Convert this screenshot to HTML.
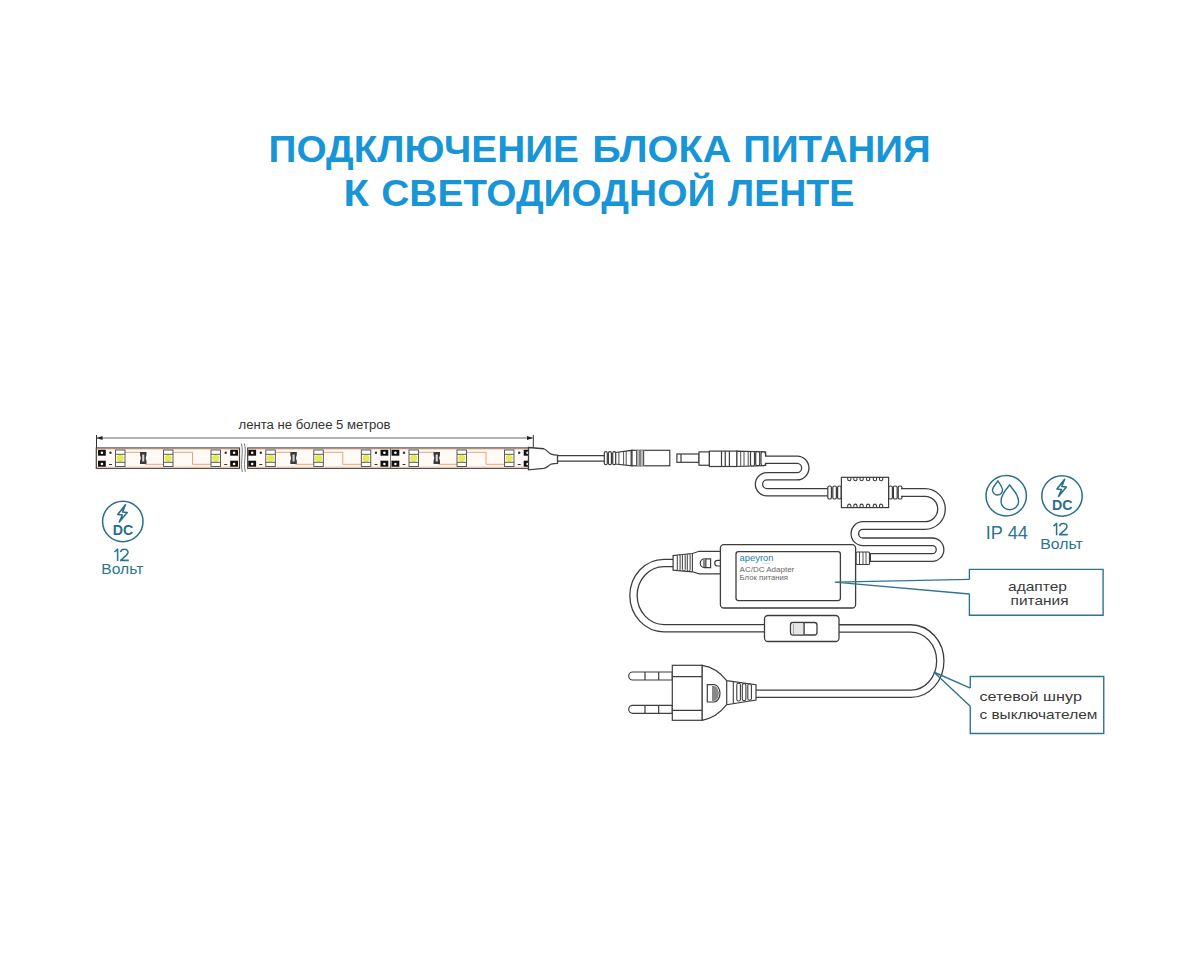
<!DOCTYPE html>
<html><head><meta charset="utf-8">
<style>
html,body{margin:0;padding:0;background:#fff;}
body{width:1200px;height:960px;overflow:hidden;}
svg{display:block;}
text{font-family:"Liberation Sans",sans-serif;}
</style></head>
<body>
<svg width="1200" height="960" viewBox="0 0 1200 960">
<rect width="1200" height="960" fill="#fff"/>
<!-- TITLE -->
<g fill="#1795d6" font-weight="bold" font-size="37.3">
<text x="268.5" y="162.4" textLength="310.5" lengthAdjust="spacingAndGlyphs">ПОДКЛЮЧЕНИЕ</text>
<text x="592.3" y="162.4" textLength="139.0" lengthAdjust="spacingAndGlyphs">БЛОКА</text>
<text x="743.3" y="162.4" textLength="187.3" lengthAdjust="spacingAndGlyphs">ПИТАНИЯ</text>
<text x="343.5" y="205.9" textLength="25.5" lengthAdjust="spacingAndGlyphs">К</text>
<text x="381.2" y="205.9" textLength="334.2" lengthAdjust="spacingAndGlyphs">СВЕТОДИОДНОЙ</text>
<text x="727.8" y="205.9" textLength="126.6" lengthAdjust="spacingAndGlyphs">ЛЕНТЕ</text>
</g>

<!-- DIMENSION -->
<text x="238.5" y="429.1" font-size="12" fill="#333" textLength="152" lengthAdjust="spacingAndGlyphs">лента не более 5 метров</text>
<g stroke="#666" stroke-width="1" fill="none">
<line x1="97" y1="438" x2="532.5" y2="438"/>
</g>
<g stroke="#333" stroke-width="1" fill="none">
<line x1="96.5" y1="435" x2="96.5" y2="448"/>
<line x1="533.3" y1="435" x2="533.3" y2="448"/>
</g>
<path d="M96.5,438 L102.5,436 L102.5,440 Z M533,438 L527,436 L527,440 Z" fill="#222"/>

<!-- TAPE -->
<defs>
<g id="led">
    <rect x="17.5" y="450" width="9.5" height="16.5" fill="#fff" stroke="#4a4a4a" stroke-width="0.9"/>
    <circle cx="22.25" cy="458.3" r="3.6" fill="#e4ec50"/>
    <line x1="17.5" y1="454.3" x2="27" y2="454.3" stroke="#4a4a4a" stroke-width="0.9"/>
    <line x1="17.5" y1="462.3" x2="27" y2="462.3" stroke="#4a4a4a" stroke-width="0.9"/>
</g>
<g id="mod">
  <rect x="0" y="449.8" width="7.8" height="5.9" fill="#111"/>
  <rect x="0" y="460.7" width="7.8" height="6" fill="#111"/>
  <circle cx="3.9" cy="452.8" r="1.3" fill="#fff"/>
  <circle cx="3.9" cy="464" r="1.3" fill="#fff"/>
  <circle cx="12.5" cy="452.8" r="1.2" fill="#333"/>
  <line x1="11" y1="464.5" x2="14" y2="464.5" stroke="#333" stroke-width="1"/>
  <rect x="132.2" y="449.8" width="7.8" height="5.9" fill="#111"/>
  <rect x="132.2" y="460.7" width="7.8" height="6" fill="#111"/>
  <circle cx="136.1" cy="452.8" r="1.3" fill="#fff"/>
  <circle cx="136.1" cy="464" r="1.3" fill="#fff"/>
  <circle cx="127.7" cy="452.8" r="1.2" fill="#333"/>
  <line x1="126.2" y1="464.5" x2="129.2" y2="464.5" stroke="#333" stroke-width="1"/>
  <g stroke="#e8a47c" stroke-width="1" fill="none">
    <path d="M27,452.3 L42,452.3"/>
    <path d="M47,464.3 L65.5,464.3"/>
    <path d="M75.5,452.3 L94.5,452.3 L94.5,464.3 L113,464.3"/>
  </g>
  <use href="#led"/>
  <use href="#led" x="48"/>
  <use href="#led" x="95.5"/>
  <path d="M42,452 H48.5 V455 Q46.8,458 48.5,461 V464 H42 V461 Q43.7,458 42,455 Z" fill="#3a3a3a"/>
  <rect x="44.2" y="454.5" width="2.1" height="7" fill="#d8d8d8"/>
</g>
</defs>
<g>
<rect x="96.3" y="448" width="143.2" height="20.3" fill="#fffaf6" stroke="#4a3a30" stroke-width="1.2"/>
<rect x="247.7" y="448" width="281.5" height="20.3" fill="#fffaf6" stroke="#4a3a30" stroke-width="1.2"/>
<path d="M97,449.3 H239 M248.3,449.3 H528.6 M97,467 H239 M248.3,467 H528.6" stroke="#f4cfb4" stroke-width="1"/>
<use href="#mod" x="98"/>
<use href="#mod" x="248.3"/>
<use href="#mod" x="391.5"/>
<line x1="390.5" y1="448" x2="390.5" y2="468" stroke="#555" stroke-width="0.8"/>
<path d="M241.3,443.5 C244,452 240,462 242.3,472 M244.3,443.5 C247,452 243,462 245.3,472" stroke="#777" stroke-width="1" fill="none"/>
</g>

<!-- end cap + cable to female -->
<g stroke="#3d3d3d" stroke-width="1.2" fill="#fff">
<path d="M557,455.6 L604.5,455.6 M557,461.2 L604.5,461.2" fill="none"/>
<path d="M528.5,447.5 L543.75,448.75 C547,450 549,453.5 551.25,454.2 C553,455 555,455.2 557.5,455.2 L557.5,463.3 C555,463.3 553,463.5 551.25,464 C549,465 547,467.8 543.75,468.3 L528.5,469.8 Z" stroke-width="1.3"/>
</g>
<!-- female connector -->
<g stroke="#3d3d3d" stroke-width="1.2" fill="#fff">
<path d="M615.4,452.5 L632,450.3 L632,465.8 L615.4,464 Z"/>
<path d="M618.9,452 V464.3 M623.6,451.4 V464.8 M626.2,451 V465.1 M631,450.4 V465.7" fill="none" stroke-width="0.9"/>
<rect x="604.3" y="451.7" width="3" height="13" rx="1.5"/>
<rect x="608.4" y="451.7" width="3" height="13" rx="1.5"/>
<rect x="612.7" y="451.7" width="3" height="13" rx="1.5"/>
<rect x="632" y="450.3" width="37.8" height="15.5"/>
<rect x="636.3" y="450.3" width="8" height="15.5" fill="#bbb" stroke="none"/>
<path d="M636.6,450.3 V465.8 M640,450.3 V465.8 M643.6,450.3 V465.8" fill="none" stroke-width="0.9"/>
</g>
<!-- male connector -->
<g stroke="#3d3d3d" stroke-width="1.2" fill="#fff">
<rect x="676.9" y="454" width="22.1" height="8.3"/>
<line x1="681" y1="454" x2="681" y2="462.3"/>
<rect x="699" y="451.9" width="10.4" height="13.35"/>
<rect x="709.4" y="451.1" width="27.5" height="15.4"/>
<path d="M721.5,451.1 V466.5 M725.25,451.1 V466.5 M729.4,451.1 V466.5" fill="none"/>
<path d="M736.9,451.1 L765.7,452 L765.7,465.5 L736.9,466.5 Z"/>
<path d="M740.7,451.2 V466.4 M744,451.3 V466.3 M748.2,451.4 V466.1" fill="none" stroke-width="0.9"/>
<rect x="750.5" y="451.5" width="4" height="14.5" rx="1.8"/>
<rect x="755.7" y="451.7" width="4" height="14" rx="1.8"/>
<rect x="761" y="451.9" width="4.5" height="13.7" rx="1.8"/>
</g>
<!-- cable S to ferrite -->
<path d="M765,459.7 L797,459.7 A8.3,8.3 0 0 1 797,476.3 L767,476.3 A8,8 0 0 0 767,492.3 L829,492.3" fill="none" stroke="#3d3d3d" stroke-width="8.6"/>
<path d="M764,459.7 L797,459.7 A8.3,8.3 0 0 1 797,476.3 L767,476.3 A8,8 0 0 0 767,492.3 L830,492.3" fill="none" stroke="#fff" stroke-width="6"/>
<!-- ferrite -->
<g stroke="#3d3d3d" stroke-width="1.2" fill="#fff">
<rect x="827.8" y="486" width="3.6" height="13" rx="1.6"/>
<rect x="832.8" y="486" width="3.6" height="13" rx="1.6"/>
<rect x="837.6" y="486" width="3.6" height="13" rx="1.6"/>
<rect x="888.6" y="486" width="3.8" height="13" rx="1.6"/>
<rect x="893.4" y="486" width="3.8" height="13" rx="1.6"/>
<rect x="898.2" y="486" width="3.8" height="13" rx="1.6"/>
<rect x="841.4" y="477.3" width="47.2" height="30.3"/>
<path d="M847.7,477.3 v1.9 a1.6,1.6 0 0 0 3.2,0 v-1.9 M853.8,477.3 v1.9 a1.6,1.6 0 0 0 3.2,0 v-1.9 M860.0,477.3 v1.9 a1.6,1.6 0 0 0 3.2,0 v-1.9 M866.5,477.3 v1.9 a1.6,1.6 0 0 0 3.2,0 v-1.9 M873.3,477.3 v1.9 a1.6,1.6 0 0 0 3.2,0 v-1.9 M879.5,477.3 v1.9 a1.6,1.6 0 0 0 3.2,0 v-1.9 " fill="none" stroke-width="1.1"/>
<path d="M847.7,507.6 v-1.9 a1.6,1.6 0 0 1 3.2,0 v1.9 M853.8,507.6 v-1.9 a1.6,1.6 0 0 1 3.2,0 v1.9 M860.0,507.6 v-1.9 a1.6,1.6 0 0 1 3.2,0 v1.9 M866.5,507.6 v-1.9 a1.6,1.6 0 0 1 3.2,0 v1.9 M873.3,507.6 v-1.9 a1.6,1.6 0 0 1 3.2,0 v1.9 M879.5,507.6 v-1.9 a1.6,1.6 0 0 1 3.2,0 v1.9 " fill="none" stroke-width="1.1"/>
</g>
<!-- cable ferrite to adapter -->
<path d="M901,492.5 L925,492.5 A16.5,16.5 0 0 1 925,525.5 L863,525.5 A8.15,8.15 0 0 0 863,541.8 L932.2,541.8 A7.85,7.85 0 0 1 932.2,557.5 L870,557.5" fill="none" stroke="#3d3d3d" stroke-width="8.9"/>
<path d="M900,492.5 L925,492.5 A16.5,16.5 0 0 1 925,525.5 L863,525.5 A8.15,8.15 0 0 0 863,541.8 L932.2,541.8 A7.85,7.85 0 0 1 932.2,557.5 L871,557.5" fill="none" stroke="#fff" stroke-width="6.3"/>
<g stroke="#3d3d3d" stroke-width="1.2" fill="#fff">
<rect x="856" y="552" width="13.5" height="12.5" rx="1"/>
<path d="M859.5,552 V564.5 M863,552 V564.5 M866,552 V564.5" fill="none" stroke-width="0.9"/>
</g>

<!-- AC cord -->
<path d="M674,563 L664,563 A30.5,32.6 0 0 0 664,628.2 L765,628.2" fill="none" stroke="#3d3d3d" stroke-width="8.6"/>
<path d="M675,563 L664,563 A30.5,32.6 0 0 0 664,628.2 L766,628.2" fill="none" stroke="#fff" stroke-width="6"/>
<path d="M838,628.4 L910.8,628.4 A29.5,32.7 0 0 1 910.8,693.8 L755,693.8" fill="none" stroke="#3d3d3d" stroke-width="8.6"/>
<path d="M837,628.4 L910.8,628.4 A29.5,32.7 0 0 1 910.8,693.8 L754,693.8" fill="none" stroke="#fff" stroke-width="6"/>

<!-- strain relief left of adapter -->
<g stroke="#3d3d3d" stroke-width="1.2" fill="#fff">
<path d="M673.1,555.6 L692.4,553.5 L699.2,551.3 L721,551.3 L721,573.9 L699.2,573.9 L692.4,571.8 L673.1,570.2 Z"/>
<path d="M692.4,553.5 V571.8" fill="none" stroke-width="1.1"/>
<rect x="677.3" y="554.8" width="2.8" height="15.8" rx="1.3" stroke-width="1"/>
<rect x="682.4" y="554.4" width="2.8" height="16.4" rx="1.3" stroke-width="1"/>
<rect x="687.3" y="553.9" width="2.8" height="17.2" rx="1.3" stroke-width="1"/>
<path d="M704.6,558.8 L710.6,558.8 L710.6,567.6 L704.6,567.6 A4.4,4.4 0 0 1 704.6,558.8 Z"/>
<rect x="703" y="559.5" width="3" height="7.5" fill="#888" stroke="none"/>
<line x1="706" y1="558.8" x2="706" y2="567.6" stroke-width="0.9"/>
<path d="M720,560.3 L717.6,560.3 A2.85,2.85 0 0 0 717.6,566 L720,566" />
</g>
<!-- adapter -->
<g stroke="#3d3d3d" stroke-width="1.3" fill="#fff">
<rect x="720.4" y="544.6" width="135.2" height="63.4" rx="3.5"/>
<rect x="736" y="551.7" width="104.4" height="48.9" rx="2.5"/>
</g>
<text x="739.6" y="560.5" font-size="9" fill="#2580ac" textLength="34" lengthAdjust="spacingAndGlyphs">apeyron</text>
<text x="762" y="563.5" font-size="2.5" fill="#9ab">LIGHT</text>
<text x="739.6" y="571.7" font-size="7.4" fill="#666" textLength="54.7" lengthAdjust="spacingAndGlyphs">AC/DC Adapter</text>
<text x="739.6" y="579.7" font-size="7.4" fill="#666" textLength="48.4" lengthAdjust="spacingAndGlyphs">Блок питания</text>

<!-- switch -->
<g stroke="#3d3d3d" stroke-width="1.3" fill="#fff">
<rect x="764.5" y="615.5" width="74.5" height="26" rx="3.5"/>
<rect x="790.5" y="622.5" width="26.5" height="12.5" rx="2.5"/>
<line x1="804" y1="623" x2="804" y2="634.5" stroke-width="1"/>
<rect x="792" y="623.5" width="11.5" height="10.8" fill="#e6e6e6" stroke="none"/>
<line x1="793.5" y1="624" x2="793.5" y2="634" stroke="#aaa" stroke-width="1"/>
<line x1="804" y1="623" x2="804" y2="634.5" stroke-width="1"/>
</g>

<!-- plug -->
<g stroke="#3d3d3d" stroke-width="1.2" fill="#fff">
<path d="M672.3,672 L632.7,672 A4,4 0 0 0 632.7,680 L672.3,680 Z"/>
<path d="M645,672 V680 M658.7,672 V680" fill="none"/>
<path d="M672.3,705.3 L632.7,705.3 A4,4 0 0 0 632.7,713.3 L672.3,713.3 Z"/>
<path d="M645,705.3 V713.3 M658.7,705.3 V713.3" fill="none"/>
<path d="M702,665.3 C713,667 721,673 726.7,680.7 L756,684.7 L756,700 L726.7,704.7 C721,712 713,718.5 702,720.3 Z"/>
<rect x="672.3" y="665.3" width="29.7" height="55"/>
<path d="M672.3,676.7 H702 M672.3,710.4 H702" fill="none"/>
<path d="M726.7,680.7 V704.7" fill="none"/>
<path d="M733.3,681.6 V703.8" fill="none" stroke-width="1.1"/>
<rect x="736.8" y="683.2" width="3.6" height="17.8" rx="1.6" stroke-width="1.1"/>
<rect x="742.3" y="683.6" width="3.6" height="17" rx="1.6" stroke-width="1.1"/>
<rect x="747.8" y="684" width="3.6" height="16.2" rx="1.6" stroke-width="1.1"/>
<path d="M707.3,684.7 L714,684.7 A6,8.65 0 0 1 714,702 L707.3,702 Z"/>
<path d="M712,686 L714,686 A4.8,7.5 0 0 1 714,701 L712,701 Z" fill="#888" stroke="none"/>
</g>

<!-- leader lines & callouts -->
<g stroke="#2f7590" stroke-width="1.4" fill="none">
<path d="M969.4,579.4 L834.7,582.1 L969.4,594"/>
<path d="M969.4,579.4 V569.4 H1103.1 V615.25 H969.4 V593.75"/>
<path d="M970.25,688.1 L933.75,672 L970.25,706.25"/>
<path d="M970.25,688.1 V676.5 H1103.75 V733.5 H970.25 V706.25"/>
</g>
<g font-size="13.3" fill="#3a3a3a">
<text x="1008" y="590.6" textLength="59" lengthAdjust="spacingAndGlyphs">адаптер</text>
<text x="1010.6" y="605" textLength="58" lengthAdjust="spacingAndGlyphs">питания</text>
<text x="979.4" y="701.25" textLength="102.5" lengthAdjust="spacingAndGlyphs">сетевой шнур</text>
<text x="979.4" y="718.75" textLength="118" lengthAdjust="spacingAndGlyphs">с выключателем</text>
</g>

<!-- icons -->
<g id="dcicon">
<circle cx="1062" cy="496" r="20.2" fill="none" stroke="#2a6f8a" stroke-width="1.5"/>
<path d="M1064.6,479.3 L1057,489 L1061.5,489.5 L1058.5,496.5 L1066.4,487 L1061.8,486.5 Z" fill="none" stroke="#2a6f8a" stroke-width="1.6" stroke-linejoin="round"/>
<text x="1052" y="509.6" font-size="14.3" font-weight="bold" fill="#2a6f8a" textLength="20.5" lengthAdjust="spacingAndGlyphs">DC</text>
</g>
<g fill="#2b7592">
<path id="n12" d="M1053.5,526.2 L1056.6,523.4 V535.2 M1059.6,526.3 C1060.2,522.6 1067.2,522.4 1067,526.6 C1066.8,529.2 1062.5,531.6 1059.6,534.6 H1067.8" fill="none" stroke="#2b7592" stroke-width="1.55" stroke-linejoin="round"/>
<text x="1040.3" y="549" font-size="14.3" textLength="42.5" lengthAdjust="spacingAndGlyphs">Вольт</text>
</g>
<use href="#dcicon" x="-939.2" y="25.5"/>
<g fill="#2b7592">
<use href="#n12" x="-939" y="25.8"/>
<text x="101.35" y="574.4" font-size="15" textLength="42" lengthAdjust="spacingAndGlyphs">Вольт</text>
</g>
<!-- IP icon -->
<circle cx="1006.2" cy="495.7" r="20.2" fill="none" stroke="#2a6f8a" stroke-width="1.5"/>
<path d="M997.9,480.8 C995,485 992.5,487.5 992.5,490 A5,5 0 0 0 1002.5,490 C1002.5,487.5 1000.5,484.5 997.9,480.8 Z" fill="none" stroke="#2a6f8a" stroke-width="1.4"/>
<path d="M1009.6,485 C1004,492 1001,496 1001,501.5 A8.8,8.2 0 0 0 1018.6,501.5 C1018.6,496 1015,492 1009.6,485 Z" fill="none" stroke="#2a6f8a" stroke-width="1.4"/>
<text x="985.8" y="539.4" font-size="17.5" fill="#2b7592" textLength="42" lengthAdjust="spacingAndGlyphs">IP 44</text>

</svg>
</body></html>
